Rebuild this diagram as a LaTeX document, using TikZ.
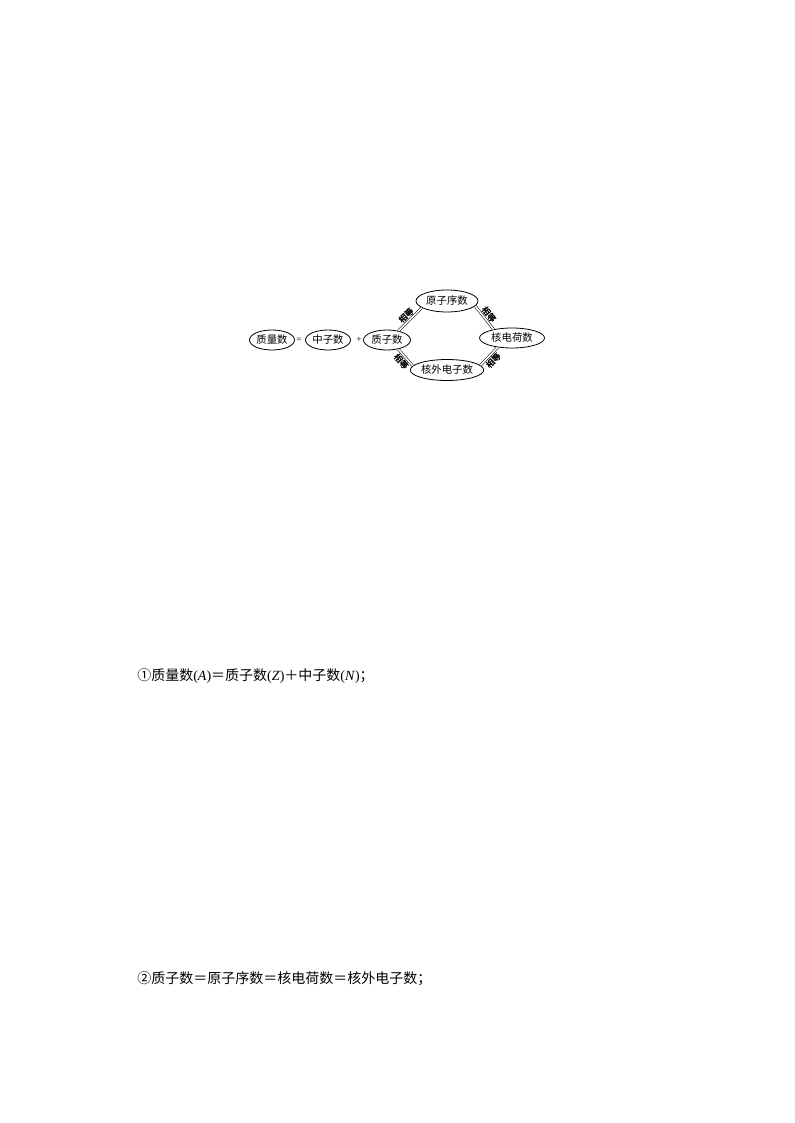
\documentclass[tikz,border=0pt]{standalone}
\usepackage{fontspec}
\setmainfont{Liberation Serif}
\newfontfamily\cjk{Noto Sans CJK SC}
\newfontfamily\cjkb[FakeBold=1.5]{Noto Sans CJK SC}
\usetikzlibrary{shapes.geometric}
\newcommand\varlab[1]{{\rmfamily(\textit{#1})}}
\begin{document}
\begin{tikzpicture}[x=0.75pt,y=-0.75pt,
  oval/.style={ellipse,draw,line width=0.6pt,inner sep=0pt,font=\cjk\fontsize{7.8}{8}\selectfont},
  eq/.style={double,double distance=1.2pt,line width=0.4pt},
  lab/.style={sloped,font=\cjkb\fontsize{6.3}{7}\selectfont,inner sep=1.2pt},
  op/.style={font=\fontsize{7}{8}\selectfont,inner sep=0pt},
  txt/.style={anchor=west,font=\cjk\fontsize{10.5}{12}\selectfont,inner sep=0pt}]
\useasboundingbox (0,0) rectangle (794,1123);
\node[oval,minimum width=33.75pt,minimum height=15pt] (zl) at (272,340) {质量数};
\node[op] (eqs) at (299,340) {=};
\node[oval,minimum width=33.75pt,minimum height=15pt] (zz) at (328,340) {中子数};
\node[op] (pls) at (359,340) {+};
\node[oval,minimum width=35.25pt,minimum height=15pt] (zp) at (387,340) {质子数};
\node[oval,minimum width=46.5pt,minimum height=16.5pt] (yx) at (447,301) {原子序数};
\node[oval,minimum width=48.75pt,minimum height=15pt] (hd) at (512,338) {核电荷数};
\node[oval,minimum width=52.5pt,minimum height=15.75pt] (hw) at (447,370) {核外电子数};
\draw[eq] (zp.39) -- node[lab,above] {相等} (yx.195);
\draw[eq] (yx.350) -- node[lab,above] {相等} (hd.155);
\draw[eq] (zp.321) -- node[lab,below] {相等} (hw.173);
\draw[eq] (hw.8) -- node[lab,below] {相等} (hd.213);
\node[txt] (t1) at (137,676) {①质量数\varlab{A}＝质子数\varlab{Z}＋中子数\varlab{N}；};
\node[txt] (t2) at (137,979) {②质子数＝原子序数＝核电荷数＝核外电子数；};
\end{tikzpicture}
\end{document}
